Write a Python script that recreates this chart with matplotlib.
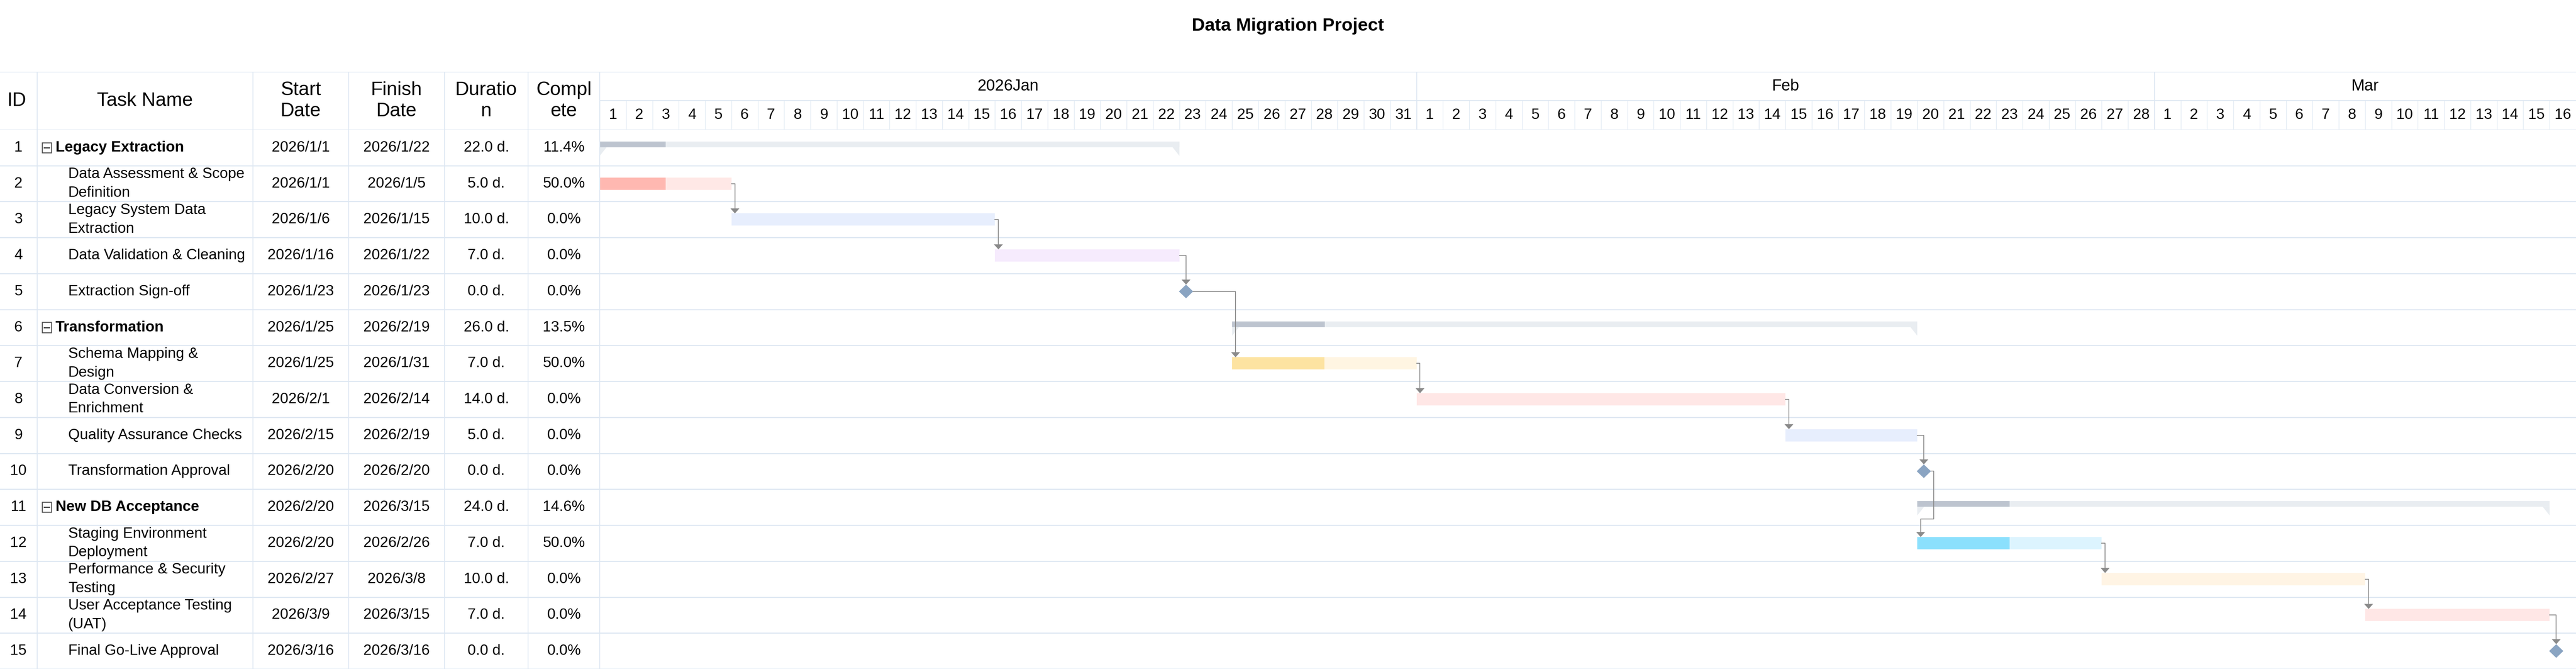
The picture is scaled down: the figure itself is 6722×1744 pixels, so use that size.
import matplotlib
matplotlib.use("Agg")
import matplotlib.pyplot as plt
from matplotlib.patches import Rectangle, Polygon
import datetime as dt

plt.rcParams['font.family'] = ['Liberation Sans', 'DejaVu Sans']

ids = list(range(1, 16))
names = ["Legacy Extraction", "Data Assessment & Scope\nDefinition", "Legacy System Data\nExtraction",
         "Data Validation & Cleaning", "Extraction Sign-off", "Transformation",
         "Schema Mapping &\nDesign", "Data Conversion &\nEnrichment", "Quality Assurance Checks",
         "Transformation Approval", "New DB Acceptance", "Staging Environment\nDeployment",
         "Performance & Security\nTesting", "User Acceptance Testing\n(UAT)", "Final Go-Live Approval"]
starts = ["2026/1/1", "2026/1/1", "2026/1/6", "2026/1/16", "2026/1/23", "2026/1/25", "2026/1/25",
          "2026/2/1", "2026/2/15", "2026/2/20", "2026/2/20", "2026/2/20", "2026/2/27", "2026/3/9", "2026/3/16"]
finishes = ["2026/1/22", "2026/1/5", "2026/1/15", "2026/1/22", "2026/1/23", "2026/2/19", "2026/1/31",
            "2026/2/14", "2026/2/19", "2026/2/20", "2026/3/15", "2026/2/26", "2026/3/8", "2026/3/15", "2026/3/16"]
durations = [22.0, 5.0, 10.0, 7.0, 0.0, 26.0, 7.0, 14.0, 5.0, 0.0, 24.0, 7.0, 10.0, 7.0, 0.0]
complete = [11.4, 50.0, 0.0, 0.0, 0.0, 13.5, 50.0, 0.0, 0.0, 0.0, 14.6, 50.0, 0.0, 0.0, 0.0]
kinds = ["summary", "task", "task", "task", "milestone", "summary", "task", "task", "task", "milestone",
         "summary", "task", "task", "task", "milestone"]
colors = [None, ("#ffb8b1", "#ffe8e6"), ("#e7eefd", "#e7eefd"), ("#f6ebfd", "#f6ebfd"), None, None,
          ("#fde3a1", "#fff5e2"), ("#ffe7e6", "#ffe7e6"), ("#e7eefd", "#e7eefd"), None, None,
          ("#8be0fd", "#dcf4fe"), ("#fff4e4", "#fff4e4"), ("#ffe7e6", "#ffe7e6"), None]
deps = [(2, 3), (3, 4), (4, 5), (5, 7), (7, 8), (8, 9), (9, 10), (10, 12), (12, 13), (13, 14), (14, 15)]
months = ["2026Jan", "Feb", "Mar"]
month_days = [31, 28, 16]

W, H = 6722, 1744
fig = plt.figure(figsize=(W / 100, H / 100), dpi=100)
X0 = 1565
HT, HM, HB = 187, 262, 338  # header top, month row bottom, header bottom
LINE = "#dde7f2"

def fx(px): return px / W
def fy(py): return 1 - py / H

base = dt.date(2026, 1, 1)
def day(s):
    y, m, d = map(int, s.split("/"))
    return (dt.date(y, m, d) - base).days

ndays = sum(month_days)
fig.text(0.5, fy(68), "Data Migration Project", ha="center", va="center", fontsize=34, fontweight="bold")

# ---- table
tab = fig.add_axes([0, 0, fx(X0), fy(HB)])
tab.set_xlim(0, X0); tab.set_ylim(15, 0); tab.axis("off")
hdr = fig.add_axes([0, fy(HB), fx(X0), (HB - HT) / H])
hdr.set_xlim(0, X0); hdr.set_ylim(1, 0); hdr.axis("off")
cols = [0, 97, 660, 910, 1160, 1378, X0]
heads = ["ID", "Task Name", "Start\nDate", "Finish\nDate", "Duratio\nn", "Compl\nete"]
for i, h in enumerate(heads):
    hdr.text(18 if i == 0 else (cols[i] + cols[i + 1]) / 2, 0.5, h, ha="left" if i == 0 else "center",
             va="center", fontsize=36, linespacing=1.25)
for c in cols[1:]:
    hdr.axvline(c, color=LINE, lw=1.5)
    tab.axvline(c, color=LINE, lw=1.5)
hdr.axhline(0, color=LINE, lw=2); hdr.axhline(1, color=LINE, lw=2)
fs = 28
for r in range(15):
    y = r + 0.5
    tab.axhline(r + 1, color=LINE, lw=2)
    tab.text(48, y, str(ids[r]), ha="center", va="center", fontsize=fs)
    if kinds[r] == "summary":
        tab.add_patch(Rectangle((110, y - 0.14), 24, 0.28, fill=False, ec="#555555", lw=1.8))
        tab.plot([115, 129], [y, y], color="#333333", lw=2)
        tab.text(145, y, names[r], ha="left", va="center", fontsize=fs, fontweight="bold")
    else:
        tab.text(178, y, names[r], ha="left", va="center", fontsize=fs, linespacing=1.45)
    tab.text((cols[2] + cols[3]) / 2, y, starts[r], ha="center", va="center", fontsize=fs)
    tab.text((cols[3] + cols[4]) / 2, y, finishes[r], ha="center", va="center", fontsize=fs)
    tab.text((cols[4] + cols[5]) / 2, y, f"{durations[r]:.1f} d.", ha="center", va="center", fontsize=fs)
    tab.text((cols[5] + cols[6]) / 2, y, f"{complete[r]:.1f}%", ha="center", va="center", fontsize=fs)

# ---- timeline header
th = fig.add_axes([fx(X0), fy(HB), 1 - fx(X0), (HB - HT) / H])
th.set_xlim(0, ndays); th.set_ylim(1, 0); th.axis("off")
split = (HM - HT) / (HB - HT)
th.axhline(0, color=LINE, lw=2); th.axhline(split, color=LINE, lw=1.5); th.axhline(1, color=LINE, lw=2)
m0 = 0
for mname, md in zip(months, month_days):
    th.text(m0 + md / 2, split / 2, mname, ha="center", va="center", fontsize=30)
    th.plot([m0, m0], [0, 1], color=LINE, lw=1.5)
    for d in range(md):
        th.text(m0 + d + 0.5, (split + 1) / 2, str(d + 1), ha="center", va="center", fontsize=28)
        th.plot([m0 + d, m0 + d], [split, 1], color=LINE, lw=1)
    m0 += md

# ---- gantt
ax = fig.add_axes([fx(X0), 0, 1 - fx(X0), fy(HB)])
ax.set_xlim(0, ndays); ax.set_ylim(15, 0); ax.axis("off")
for r in range(15):
    ax.axhline(r + 1, color=LINE, lw=2)
ax.axvline(0, color=LINE, lw=1.5)

MOFF = 0.25
def geom(i):
    r = i - 1
    s = day(starts[r]); f = day(finishes[r]) + 1
    if kinds[r] == "milestone":
        return r, s + MOFF, s + MOFF
    return r, s, f

TOP, BH = 0.33, 0.34
for i in ids:
    r, s, f = geom(i)
    p = s + (f - s) * complete[r] / 100
    if kinds[r] == "summary":
        ax.add_patch(Rectangle((s, r + TOP), f - s, 0.16, color="#e9edf1", lw=0))
        ax.add_patch(Rectangle((s, r + TOP), p - s, 0.16, color="#bdc4cf", lw=0))
        ax.add_patch(Polygon([(s, r + TOP + 0.16), (s + 0.26, r + TOP + 0.16), (s, r + TOP + 0.4)], color="#e9edf1", lw=0))
        ax.add_patch(Polygon([(f, r + TOP + 0.16), (f - 0.26, r + TOP + 0.16), (f, r + TOP + 0.4)], color="#e9edf1", lw=0))
    elif kinds[r] == "task":
        c1, c2 = colors[r]
        ax.add_patch(Rectangle((s, r + TOP), f - s, BH, color=c2, lw=0))
        if p > s:
            ax.add_patch(Rectangle((s, r + TOP), p - s, BH, color=c1, lw=0))

AC = "#8a8a8a"
AW, AH = 0.17, 0.14
def arrowhead(x, ytip):
    ax.add_patch(Polygon([(x - AW, ytip - AH), (x + AW, ytip - AH), (x, ytip)], color=AC, lw=0, zorder=4))

for a, b in deps:
    ra, sa, fa = geom(a)
    rb, sb, fb = geom(b)
    ya = ra + 0.5
    ytip = rb + (0.5 - 0.19 if kinds[rb] == "milestone" else TOP)
    vx = sb if kinds[rb] == "milestone" else sb + 0.13
    if kinds[ra] == "milestone" and vx < fa + 0.2:
        jx = fa + 0.37
        yj = rb - 0.17
        ax.plot([fa, jx, jx, vx, vx], [ya, ya, yj, yj, ytip - AH], color=AC, lw=1.5, zorder=3)
    else:
        ax.plot([fa, vx, vx], [ya, ya, ytip - AH], color=AC, lw=1.5, zorder=3)
    arrowhead(vx, ytip)

for i in ids:
    r, s, f = geom(i)
    if kinds[r] == "milestone":
        ax.add_patch(Polygon([(s - 0.27, r + 0.5), (s, r + 0.31), (s + 0.27, r + 0.5), (s, r + 0.69)],
                             color="#8aa4c2", lw=0, zorder=5))

fig.savefig("out.png", dpi=100)
